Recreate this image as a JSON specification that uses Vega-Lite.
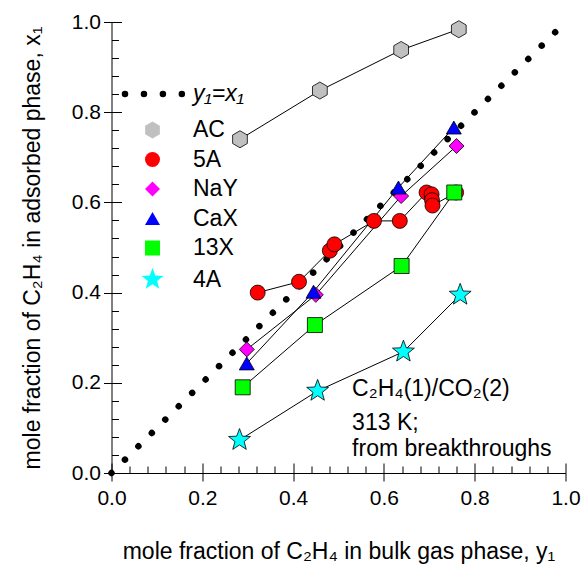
{
  "$schema": "https://vega.github.io/schema/vega-lite/v6.json",
  "width": 454,
  "height": 451,
  "autosize": {"type": "none"},
  "padding": {"left": 111.5, "top": 22, "right": 18.5, "bottom": 95},
  "background": "white",
  "config": {
    "font": "Liberation Sans",
    "view": {"stroke": null},
    "axis": {"grid": false, "domainColor": "black", "tickColor": "black", "labelColor": "black", "titleColor": "black", "labelFlush": false, "labelOverlap": false, "titleFontWeight": "normal", "tickWidth": 1, "domainWidth": 1}
  },
  "datasets": {
    "diag": [
      {"x": 0, "y": 0, "name": "y₁=x₁"},
      {"x": 0.978, "y": 0.978, "name": "y₁=x₁"}
    ],
    "pts": [
      {"sorbent": "AC", "x": 0.283, "y": 0.740},
      {"sorbent": "AC", "x": 0.459, "y": 0.848},
      {"sorbent": "AC", "x": 0.638, "y": 0.938},
      {"sorbent": "AC", "x": 0.765, "y": 0.984},
      {"sorbent": "5A", "x": 0.322, "y": 0.400},
      {"sorbent": "5A", "x": 0.413, "y": 0.424},
      {"sorbent": "5A", "x": 0.481, "y": 0.493},
      {"sorbent": "5A", "x": 0.491, "y": 0.507},
      {"sorbent": "5A", "x": 0.578, "y": 0.559},
      {"sorbent": "5A", "x": 0.635, "y": 0.559},
      {"sorbent": "5A", "x": 0.694, "y": 0.622},
      {"sorbent": "5A", "x": 0.705, "y": 0.618},
      {"sorbent": "5A", "x": 0.706, "y": 0.605},
      {"sorbent": "5A", "x": 0.707, "y": 0.593},
      {"sorbent": "5A", "x": 0.759, "y": 0.622},
      {"sorbent": "NaY", "x": 0.298, "y": 0.274},
      {"sorbent": "NaY", "x": 0.450, "y": 0.395},
      {"sorbent": "NaY", "x": 0.638, "y": 0.614},
      {"sorbent": "NaY", "x": 0.760, "y": 0.725},
      {"sorbent": "CaX", "x": 0.298, "y": 0.243},
      {"sorbent": "CaX", "x": 0.445, "y": 0.402},
      {"sorbent": "CaX", "x": 0.632, "y": 0.633},
      {"sorbent": "CaX", "x": 0.754, "y": 0.766},
      {"sorbent": "13X", "x": 0.289, "y": 0.190},
      {"sorbent": "13X", "x": 0.448, "y": 0.328},
      {"sorbent": "13X", "x": 0.639, "y": 0.459},
      {"sorbent": "13X", "x": 0.755, "y": 0.622},
      {"sorbent": "4A", "x": 0.282, "y": 0.073},
      {"sorbent": "4A", "x": 0.454, "y": 0.182},
      {"sorbent": "4A", "x": 0.643, "y": 0.269},
      {"sorbent": "4A", "x": 0.768, "y": 0.395}
    ]
  },
  "layer": [
    {
      "data": {"name": "diag"},
      "mark": {"type": "line", "strokeWidth": 6.5, "strokeCap": "round", "color": "black"},
      "encoding": {
        "x": {"field": "x", "type": "quantitative", "scale": {"domain": [0, 1], "nice": false, "zero": false},
          "axis": {"orient": "bottom", "values": [0, 0.2, 0.4, 0.6, 0.8, 1], "format": ".1f", "ticks": true, "tickSize": 8, "labelFontSize": 21, "labelPadding": 6, "title": "mole fraction of C₂H₄ in bulk gas phase, y₁", "titleFontSize": 23, "titleY": 85, "titleBaseline": "alphabetic"}},
        "y": {"field": "y", "type": "quantitative", "scale": {"domain": [0, 1], "nice": false, "zero": false},
          "axis": {"orient": "left", "values": [0, 0.2, 0.4, 0.6, 0.8, 1], "format": ".1f", "ticks": true, "tickSize": 8, "labelFontSize": 21, "labelPadding": 3, "title": "mole fraction of C₂H₄ in adsorbed phase, x₁", "titleFontSize": 23, "titleX": -72, "titleBaseline": "alphabetic"}},
        "strokeDash": {"field": "name", "type": "nominal",
          "scale": {"domain": ["y₁=x₁"], "range": [[0.01, 18.94]]},
          "legend": {"orient": "none", "legendX": 10, "legendY": 40, "title": null, "padding": 0,
            "symbolType": "stroke", "symbolSize": 3250, "symbolStrokeWidth": 6.5, "symbolStrokeColor": "black",
            "labelFontSize": 23, "labelFontStyle": "italic", "labelColor": "black", "labelOffset": 7.5,
            "encode": {"symbols": {"update": {"strokeCap": {"value": "round"}, "strokeDash": {"value": [0.01, 13.4]}, "stroke": {"value": "black"}, "strokeWidth": {"value": 6.5}}}}}}
      }
    },
    {
      "data": {"name": "pts"},
      "mark": {"type": "line", "color": "black", "strokeWidth": 1},
      "encoding": {
        "x": {"field": "x", "type": "quantitative",
          "axis": {"orient": "bottom", "offset": -10, "values": [0, 0.2, 0.4, 0.6, 0.8, 1], "labels": false, "ticks": true, "tickSize": 10, "domain": false, "title": null}},
        "y": {"field": "y", "type": "quantitative",
          "axis": {"orient": "left", "offset": -10, "values": [0, 0.2, 0.4, 0.6, 0.8, 1], "labels": false, "ticks": true, "tickSize": 10, "domain": false, "title": null}},
        "detail": {"field": "sorbent", "type": "nominal"}
      }
    },
    {
      "data": {"name": "pts"},
      "mark": {"type": "point", "filled": true, "size": 225, "stroke": "black", "strokeWidth": 0.8, "opacity": 1, "strokeOpacity": 1},
      "encoding": {
        "x": {"field": "x", "type": "quantitative",
          "axis": {"orient": "bottom", "offset": -7, "values": [0.04, 0.08, 0.12, 0.16, 0.24, 0.28, 0.32, 0.36, 0.44, 0.48, 0.52, 0.56, 0.64, 0.68, 0.72, 0.76, 0.84, 0.88, 0.92, 0.96], "labels": false, "ticks": true, "tickSize": 7, "domain": false, "title": null}},
        "y": {"field": "y", "type": "quantitative",
          "axis": {"orient": "left", "offset": -7, "values": [0.04, 0.08, 0.12, 0.16, 0.24, 0.28, 0.32, 0.36, 0.44, 0.48, 0.52, 0.56, 0.64, 0.68, 0.72, 0.76, 0.84, 0.88, 0.92, 0.96], "labels": false, "ticks": true, "tickSize": 7, "domain": false, "title": null}},
        "shape": {"field": "sorbent", "type": "nominal",
          "scale": {"domain": ["AC", "5A", "NaY", "CaX", "13X", "4A"],
            "range": ["M0,-1.133L0.981,-0.567L0.981,0.567L0,1.133L-0.981,0.567L-0.981,-0.567Z", "circle", "diamond", "triangle-up", "square", "M0,-1.533L0.379,-0.521L1.458,-0.474L0.612,0.199L0.901,1.24L0,0.644L-0.901,1.24L-0.612,0.199L-1.458,-0.474L-0.379,-0.521Z"]},
          "legend": {"orient": "none", "legendX": 29.5, "legendY": 96.5, "title": null, "padding": 0, "rowPadding": 5.5,
            "labelFontSize": 23, "labelOffset": 29, "labelColor": "black", "symbolSize": 225, "symbolStrokeColor": "black", "symbolStrokeWidth": 1}},
        "fill": {"field": "sorbent", "type": "nominal",
          "scale": {"domain": ["AC", "5A", "NaY", "CaX", "13X", "4A"],
            "range": ["#c0c0c0", "#ff0000", "#ff00ff", "#0000ff", "#00ff00", "#00ffff"]},
          "legend": {"orient": "none", "legendX": 29.5, "legendY": 96.5, "title": null, "padding": 0, "rowPadding": 5.5,
            "labelFontSize": 23, "labelOffset": 29, "labelColor": "black", "symbolSize": 225, "symbolStrokeColor": "black", "symbolStrokeWidth": 1}}
      }
    },
    {
      "data": {"values": [{"t": "C₂H₄(1)/CO₂(2)"}]},
      "mark": {"type": "text", "align": "left", "baseline": "alphabetic", "fontSize": 23, "color": "black"},
      "encoding": {
        "x": {"datum": 0.53, "type": "quantitative", "axis": null},
        "y": {"datum": 0.1707, "type": "quantitative", "axis": null},
        "text": {"field": "t"}
      }
    },
    {
      "data": {"values": [{"t": "313 K;"}]},
      "mark": {"type": "text", "align": "left", "baseline": "alphabetic", "fontSize": 23, "color": "black"},
      "encoding": {
        "x": {"datum": 0.53, "type": "quantitative", "axis": null},
        "y": {"datum": 0.0953, "type": "quantitative", "axis": null},
        "text": {"field": "t"}
      }
    },
    {
      "data": {"values": [{"t": "from breakthroughs"}]},
      "mark": {"type": "text", "align": "left", "baseline": "alphabetic", "fontSize": 23, "color": "black"},
      "encoding": {
        "x": {"datum": 0.53, "type": "quantitative", "axis": null},
        "y": {"datum": 0.0377, "type": "quantitative", "axis": null},
        "text": {"field": "t"}
      }
    }
  ],
  "resolve": {"axis": {"x": "independent", "y": "independent"}}
}
